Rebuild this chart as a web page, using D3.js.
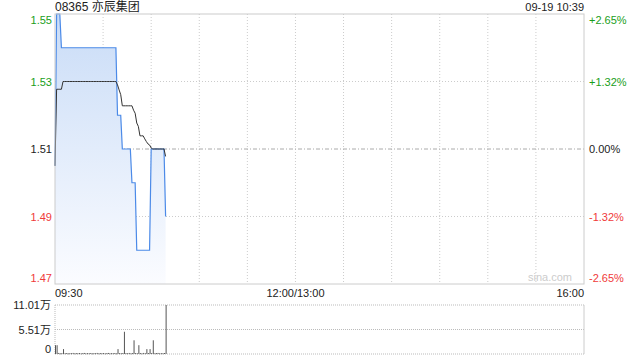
<!DOCTYPE html>
<html>
<head>
<meta charset="utf-8">
<script src="https://cdn.jsdelivr.net/npm/d3@7"></script>
<style>
  body { margin: 0; background: #fff; }
  svg text { font-family: "Liberation Sans", Arial, "Noto Sans CJK SC", sans-serif; }
</style>
</head>
<body>
<svg id="chart" width="640" height="360"></svg>
<script>
let title = "08365 亦辰集团";
let stamp = "09-19 10:39";
let preClose = 1.51;
let priceTicks = [1.55, 1.53, 1.51, 1.49, 1.47];
let pctTicks = ["+2.65%", "+1.32%", "0.00%", "-1.32%", "-2.65%"];
let timeLabels = ["09:30", "12:00/13:00", "16:00"];
let volTicks = [0, 55050, 110100];
let volTickLabels = ["0", "5.51万", "11.01万"];

// minute-by-minute from 09:30 (70 minutes up to 10:39)
let price = [1.505,
  1.55, 1.55, 1.55,
  1.54, 1.54, 1.54, 1.54, 1.54, 1.54, 1.54, 1.54, 1.54, 1.54, 1.54, 1.54, 1.54, 1.54, 1.54, 1.54, 1.54,
  1.54, 1.54, 1.54, 1.54, 1.54, 1.54, 1.54, 1.54, 1.54, 1.54, 1.54, 1.54, 1.54, 1.54, 1.54, 1.54, 1.54, 1.54,
  1.52, 1.52, 1.52,
  1.51, 1.51, 1.51, 1.51, 1.51, 1.51,
  1.50, 1.50, 1.50,
  1.48, 1.48, 1.48, 1.48, 1.48, 1.48, 1.48, 1.48, 1.48,
  1.51, 1.51, 1.51, 1.51, 1.51, 1.51, 1.51, 1.51, 1.51,
  1.49];
let avgPrice = [1.505,
  1.5277, 1.5277, 1.5277, 1.5277,
  1.53, 1.53, 1.53, 1.53, 1.53, 1.53, 1.53, 1.53, 1.53, 1.53, 1.53, 1.53, 1.53, 1.53, 1.53, 1.53, 1.53,
  1.53, 1.53, 1.53, 1.53, 1.53, 1.53, 1.53, 1.53, 1.53, 1.53, 1.53, 1.53, 1.53, 1.53, 1.53, 1.53, 1.53,
  1.529, 1.5275, 1.5261, 1.5228,
  1.5228, 1.5228, 1.5228, 1.5228, 1.5228, 1.5228,
  1.5215, 1.5206, 1.5177, 1.5167, 1.5139, 1.5139, 1.5139, 1.513, 1.5122, 1.5115, 1.5112, 1.5103,
  1.51, 1.51, 1.51, 1.51, 1.51, 1.51, 1.51, 1.51,
  1.5078];
let volume = [19800, 19800, 2400, 1600, 2000, 11000, 1800, 2200, 1500, 2000,
  1800, 2400, 1600, 2000, 1800, 2200, 1500, 2000, 2400, 1600,
  2000, 1800, 2200, 1500, 2000, 1800, 2400, 1600, 2000, 1800,
  2200, 1500, 2000, 2400, 1600, 2000, 1800, 2200, 1500, 11000,
  2000, 1800, 2200, 50000, 2000, 1800, 2400, 1600, 2000, 30800,
  2200, 1800, 19800, 2000, 1600, 2400, 1800, 11000, 2000, 11000,
  2200, 30800, 1800, 2000, 2400, 1600, 2000, 1800, 2200, 110100];

let green = "#1a9e1a", red = "#f03a3a", dark = "#222";
let pLeft = 55, pRight = 584, pTop = 14, pBottom = 284;
let vTop = 305, vBottom = 354;

let svg = d3.select("#chart");
let x = d3.scaleLinear().domain([0, 330]).range([pLeft, pRight]);
let y = d3.scaleLinear().domain([1.47, 1.55]).range([pBottom, pTop]);
let yv = d3.scaleLinear().domain([0, 110100]).range([vBottom, vTop]);
let colorOf = v => v > preClose + 1e-9 ? green : (v < preClose - 1e-9 ? red : dark);

// gradient for the price area
let grad = svg.append("defs").append("linearGradient")
    .attr("id", "fillGrad").attr("x1", 0).attr("y1", 0).attr("x2", 0).attr("y2", 1);
grad.append("stop").attr("offset", "0%").attr("stop-color", "#c9dcf7");
grad.append("stop").attr("offset", "100%").attr("stop-color", "#fbfcff");

// grid
let g = svg.append("g");
d3.range(30, 330, 30).forEach(m => {
    g.append("line").attr("x1", x(m)).attr("x2", x(m)).attr("y1", pTop).attr("y2", pBottom)
        .attr("stroke", "#ccc").attr("stroke-dasharray", "1,2");
});
priceTicks.forEach(p => {
    if (p == 1.55 || p == 1.47) return;
    let zero = Math.abs(p - preClose) < 1e-9;
    g.append("line").attr("x1", pLeft).attr("x2", pRight).attr("y1", y(p)).attr("y2", y(p))
        .attr("stroke", zero ? "#aaa" : "#ccc")
        .attr("stroke-dasharray", zero ? "4,2,1,2" : "1,2");
});

// price area + lines
let area = d3.area().x((d, i) => x(i)).y0(pBottom).y1(d => y(d));
let line = d3.line().x((d, i) => x(i)).y(d => y(d));
svg.append("path").datum(price).attr("d", area).attr("fill", "url(#fillGrad)");
svg.append("path").datum(price).attr("d", line)
    .attr("fill", "none").attr("stroke", "#4b8ae8").attr("stroke-width", 1.2);
svg.append("path").datum(avgPrice).attr("d", line)
    .attr("fill", "none").attr("stroke", "#333").attr("stroke-width", 1);

// frame
svg.append("rect").attr("x", pLeft).attr("y", pTop).attr("width", pRight - pLeft).attr("height", pBottom - pTop)
    .attr("fill", "none").attr("stroke", "#ccc");

// left / right labels
priceTicks.forEach((p, i) => {
    let ty = y(p) + 4;
    if (i == 0) ty = y(p) + 10;
    if (i == priceTicks.length - 1) ty = y(p) - 2;
    svg.append("text").attr("x", 52).attr("y", ty).attr("text-anchor", "end")
        .attr("font-size", 11).attr("fill", colorOf(p)).text(p.toFixed(2));
    svg.append("text").attr("x", 589).attr("y", ty).attr("text-anchor", "start")
        .attr("font-size", 11).attr("fill", colorOf(p)).text(pctTicks[i]);
});

// title and stamp
svg.append("text").attr("x", 55).attr("y", 11).attr("font-size", 12).attr("fill", "#222").text(title);
svg.append("text").attr("x", pRight).attr("y", 11).attr("text-anchor", "end")
    .attr("font-size", 11).attr("fill", "#222").text(stamp);

// watermark
svg.append("text").attr("x", 572).attr("y", 281).attr("text-anchor", "end")
    .attr("font-size", 11).attr("fill", "#ccc").text("sina.com");

// time labels
let timePos = [[0, "start"], [150, "middle"], [330, "end"]];
timeLabels.forEach((t, i) => {
    svg.append("text").attr("x", x(timePos[i][0])).attr("y", 297)
        .attr("text-anchor", timePos[i][1]).attr("font-size", 11).attr("fill", "#222").text(t);
});

// volume panel
volTicks.forEach((v, i) => {
    svg.append("line").attr("x1", pLeft).attr("x2", pRight).attr("y1", yv(v)).attr("y2", yv(v))
        .attr("stroke", "#bbb").attr("stroke-dasharray", "1,1");
    let ty = i == 0 ? yv(v) - 1 : yv(v) + 4;
    svg.append("text").attr("x", 51).attr("y", ty).attr("text-anchor", "end")
        .attr("font-size", 11).attr("fill", "#222").text(volTickLabels[i]);
});
svg.append("line").attr("x1", pLeft).attr("x2", pLeft).attr("y1", vTop).attr("y2", vBottom)
    .attr("stroke", "#bbb").attr("stroke-dasharray", "1,1");
svg.append("line").attr("x1", pRight).attr("x2", pRight).attr("y1", vTop).attr("y2", vBottom)
    .attr("stroke", "#ccc");
svg.append("g").selectAll("rect").data(volume).join("rect")
    .attr("x", (d, i) => x(i))
    .attr("y", d => yv(d))
    .attr("width", 1)
    .attr("height", d => Math.max(1, vBottom - yv(d)))
    .attr("fill", "#555");
</script>
</body>
</html>
